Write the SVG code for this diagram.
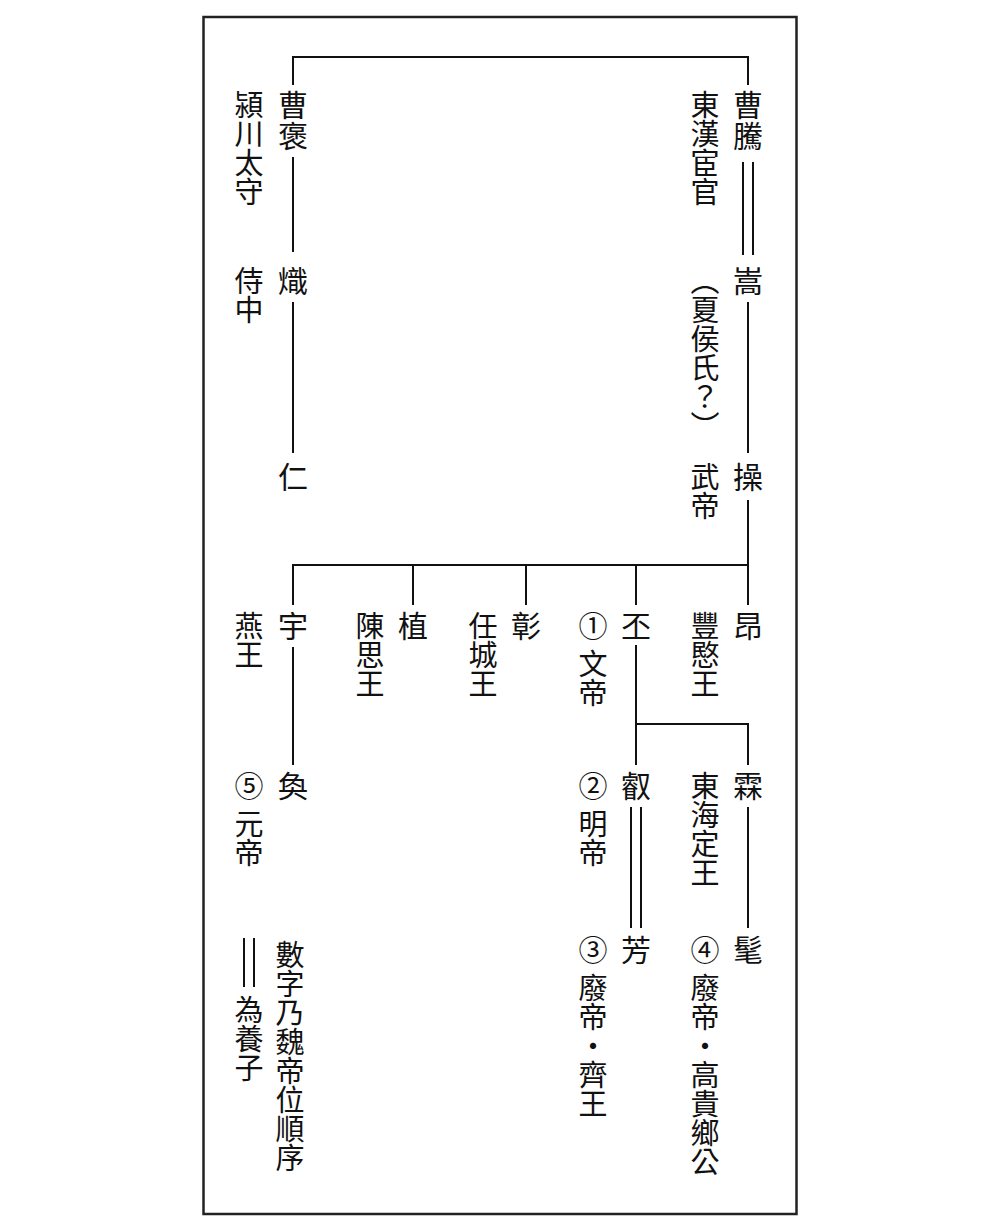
<svg xmlns="http://www.w3.org/2000/svg" width="1000" height="1231" viewBox="0 0 1000 1231">
<style>
.v{writing-mode:vertical-rl;font-family:"Noto Sans CJK TC","Noto Sans CJK JP",sans-serif;fill:#111}
.n{font-size:30px;letter-spacing:1px}
.l{font-size:29px}
.c{letter-spacing:9px}
.vf{font-feature-settings:"vert" 1}
.ln{stroke:#111;stroke-width:2;fill:none}
</style>
<rect x="203.5" y="17" width="593" height="1197" fill="#fff" stroke="#222" stroke-width="2.5"/>
<g id="connectors" class="ln">
<path d="M293 85V57H748V85"/>
<path d="M293 157V252M293 302V453"/>
<path d="M743 162V255M753 162V255"/>
<path d="M748 302V453M748 500V605"/>
<path d="M293 605V565H748"/>
<path d="M413 565V605M526 565V605M636 565V605"/>
<path d="M636 645V765M636 724H748V765"/>
<path d="M293 647V765"/>
<path d="M631 807V928M641 807V928"/>
<path d="M748 807V928"/>
</g>
<g id="n-caoteng"><text class="v n" x="748" y="90">曹騰</text><text class="v l" x="705" y="90">東漢宦官</text></g>
<g id="n-song"><text class="v n" x="748" y="266">嵩</text><text class="v l vf" x="705" y="266">（夏侯氏？）</text></g>
<g id="n-cao"><text class="v n" x="748" y="462">操</text><text class="v l" x="705" y="462">武帝</text></g>
<g id="n-caobao"><text class="v n" x="293" y="90">曹褒</text><text class="v l" x="249" y="90">潁川太守</text></g>
<g id="n-chi"><text class="v n" x="293" y="266">熾</text><text class="v l" x="249" y="266">侍中</text></g>
<g id="n-ren"><text class="v n" x="293" y="462">仁</text></g>
<g id="n-yu"><text class="v n" x="293" y="611">宇</text><text class="v l" x="249" y="611">燕王</text></g>
<g id="n-zhi"><text class="v n" x="413" y="611">植</text><text class="v l" x="370" y="611">陳思王</text></g>
<g id="n-zhang"><text class="v n" x="526" y="611">彰</text><text class="v l" x="483" y="611">任城王</text></g>
<g id="n-pi"><text class="v n" x="636" y="611">丕</text><text class="v l" x="593" y="611"><tspan class="c">①</tspan>文帝</text></g>
<g id="n-ang"><text class="v n" x="748" y="611">昂</text><text class="v l" x="705" y="611">豐愍王</text></g>
<g id="n-huan"><text class="v n" x="293" y="771">奐</text><text class="v l" x="249" y="771"><tspan class="c">⑤</tspan>元帝</text></g>
<g id="n-rui"><text class="v n" x="636" y="771">叡</text><text class="v l" x="593" y="771"><tspan class="c">②</tspan>明帝</text></g>
<g id="n-lin"><text class="v n" x="748" y="771">霖</text><text class="v l" x="705" y="771">東海定王</text></g>
<g id="n-fang"><text class="v n" x="636" y="935">芳</text><text class="v l" x="593" y="935"><tspan class="c">③</tspan>廢帝・齊王</text></g>
<g id="n-mao"><text class="v n" x="748" y="935">髦</text><text class="v l" x="705" y="935"><tspan class="c">④</tspan>廢帝・高貴鄉公</text></g>
<g id="legend">
<path class="ln" d="M244 938V987M254 938V987"/>
<text class="v l" x="249" y="995">為養子</text>
<text class="v l" x="290" y="940">數字乃魏帝位順序</text>
</g>
</svg>
